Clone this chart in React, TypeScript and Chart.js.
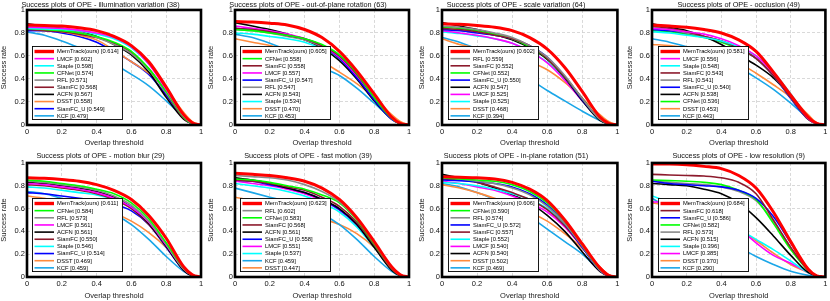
import React, { useEffect, useRef } from "react";
import { Chart, registerables } from "chart.js";

Chart.register(...registerables);

const FONT = "'Liberation Sans', Arial, Helvetica, sans-serif";

// ---------- data ----------
const thresholds = [0, 0.1, 0.2, 0.3, 0.4, 0.5, 0.6, 0.7, 0.8, 0.9, 0.95, 1];

const ivTitle = "Success plots of OPE - illumination variation (38)";
const ivTrackers = ["MemTrack(ours)", "LMCF", "Staple", "CFNet", "RFL", "SiamFC", "ACFN", "DSST", "SiamFC_U", "KCF"];
const ivScores = [0.614, 0.602, 0.598, 0.574, 0.571, 0.568, 0.567, 0.558, 0.549, 0.479];
const ivCurves = [
  [0.87, 0.865, 0.86, 0.845, 0.82, 0.77, 0.69, 0.55, 0.33, 0.09, 0.02, 0],
  [0.85, 0.845, 0.84, 0.825, 0.8, 0.76, 0.68, 0.53, 0.31, 0.08, 0.015, 0],
  [0.84, 0.835, 0.83, 0.82, 0.79, 0.75, 0.67, 0.53, 0.33, 0.08, 0.015, 0],
  [0.84, 0.83, 0.82, 0.8, 0.77, 0.72, 0.64, 0.49, 0.29, 0.07, 0.01, 0],
  [0.86, 0.85, 0.84, 0.81, 0.76, 0.7, 0.62, 0.48, 0.28, 0.07, 0.01, 0],
  [0.83, 0.82, 0.81, 0.79, 0.76, 0.71, 0.63, 0.49, 0.28, 0.06, 0.01, 0],
  [0.88, 0.86, 0.84, 0.81, 0.77, 0.7, 0.61, 0.46, 0.24, 0.05, 0.01, 0],
  [0.84, 0.83, 0.81, 0.78, 0.74, 0.65, 0.55, 0.45, 0.31, 0.11, 0.03, 0],
  [0.82, 0.82, 0.8, 0.77, 0.72, 0.64, 0.55, 0.44, 0.26, 0.06, 0.01, 0],
  [0.81, 0.78, 0.73, 0.67, 0.61, 0.53, 0.44, 0.34, 0.21, 0.07, 0.02, 0],
];

const oprTitle = "Success plots of OPE - out-of-plane rotation (63)";
const oprTrackers = ["MemTrack(ours)", "CFNet", "SiamFC", "LMCF", "SiamFC_U", "RFL", "ACFN", "Staple", "DSST", "KCF"];
const oprScores = [0.605, 0.558, 0.558, 0.557, 0.547, 0.547, 0.543, 0.534, 0.47, 0.453];
const oprCurves = [
  [0.9, 0.895, 0.885, 0.87, 0.83, 0.76, 0.64, 0.47, 0.27, 0.07, 0.015, 0],
  [0.83, 0.82, 0.8, 0.78, 0.75, 0.7, 0.61, 0.45, 0.24, 0.06, 0.01, 0],
  [0.84, 0.83, 0.81, 0.78, 0.75, 0.69, 0.6, 0.44, 0.24, 0.06, 0.01, 0],
  [0.86, 0.84, 0.82, 0.79, 0.75, 0.69, 0.59, 0.43, 0.24, 0.06, 0.01, 0],
  [0.84, 0.83, 0.81, 0.78, 0.75, 0.69, 0.58, 0.41, 0.22, 0.05, 0.01, 0],
  [0.83, 0.82, 0.8, 0.77, 0.74, 0.68, 0.58, 0.42, 0.23, 0.05, 0.01, 0],
  [0.89, 0.86, 0.83, 0.79, 0.74, 0.67, 0.56, 0.4, 0.21, 0.05, 0.01, 0],
  [0.8, 0.79, 0.77, 0.75, 0.72, 0.66, 0.57, 0.42, 0.23, 0.06, 0.01, 0],
  [0.75, 0.72, 0.69, 0.65, 0.61, 0.55, 0.46, 0.36, 0.24, 0.09, 0.03, 0],
  [0.79, 0.76, 0.71, 0.65, 0.58, 0.5, 0.43, 0.32, 0.19, 0.06, 0.015, 0],
];

const svTitle = "Success plots of OPE - scale variation (64)";
const svTrackers = ["MemTrack(ours)", "RFL", "SiamFC", "CFNet", "SiamFC_U", "ACFN", "LMCF", "Staple", "DSST", "KCF"];
const svScores = [0.602, 0.559, 0.552, 0.552, 0.55, 0.547, 0.525, 0.525, 0.468, 0.394];
const svCurves = [
  [0.88, 0.875, 0.865, 0.85, 0.82, 0.76, 0.66, 0.5, 0.29, 0.07, 0.015, 0],
  [0.86, 0.85, 0.83, 0.8, 0.76, 0.69, 0.59, 0.43, 0.23, 0.05, 0.01, 0],
  [0.84, 0.83, 0.81, 0.78, 0.75, 0.69, 0.58, 0.42, 0.23, 0.05, 0.01, 0],
  [0.85, 0.84, 0.82, 0.79, 0.75, 0.68, 0.58, 0.42, 0.23, 0.05, 0.01, 0],
  [0.83, 0.82, 0.8, 0.78, 0.75, 0.69, 0.59, 0.42, 0.22, 0.05, 0.01, 0],
  [0.89, 0.86, 0.83, 0.79, 0.74, 0.67, 0.57, 0.41, 0.21, 0.04, 0.01, 0],
  [0.82, 0.8, 0.78, 0.75, 0.71, 0.64, 0.54, 0.39, 0.21, 0.05, 0.01, 0],
  [0.81, 0.795, 0.775, 0.75, 0.71, 0.64, 0.545, 0.4, 0.21, 0.05, 0.01, 0],
  [0.75, 0.7, 0.67, 0.64, 0.6, 0.55, 0.48, 0.37, 0.23, 0.09, 0.03, 0],
  [0.76, 0.72, 0.66, 0.59, 0.5, 0.4, 0.3, 0.21, 0.12, 0.04, 0.01, 0],
];

const occTitle = "Success plots of OPE - occlusion (49)";
const occTrackers = ["MemTrack(ours)", "LMCF", "Staple", "SiamFC", "RFL", "SiamFC_U", "ACFN", "CFNet", "DSST", "KCF"];
const occScores = [0.581, 0.556, 0.548, 0.543, 0.541, 0.54, 0.538, 0.536, 0.453, 0.443];
const occCurves = [
  [0.87, 0.86, 0.85, 0.83, 0.8, 0.74, 0.64, 0.46, 0.26, 0.07, 0.015, 0],
  [0.84, 0.83, 0.81, 0.79, 0.75, 0.69, 0.6, 0.45, 0.26, 0.06, 0.01, 0],
  [0.81, 0.8, 0.78, 0.76, 0.73, 0.68, 0.6, 0.46, 0.27, 0.07, 0.01, 0],
  [0.86, 0.84, 0.81, 0.77, 0.73, 0.67, 0.58, 0.43, 0.24, 0.05, 0.01, 0],
  [0.85, 0.83, 0.8, 0.77, 0.73, 0.67, 0.58, 0.43, 0.24, 0.05, 0.01, 0],
  [0.83, 0.82, 0.8, 0.77, 0.73, 0.67, 0.58, 0.43, 0.23, 0.05, 0.01, 0],
  [0.88, 0.85, 0.82, 0.77, 0.7, 0.61, 0.52, 0.41, 0.25, 0.06, 0.01, 0],
  [0.82, 0.81, 0.79, 0.76, 0.72, 0.66, 0.58, 0.44, 0.24, 0.05, 0.01, 0],
  [0.7, 0.69, 0.67, 0.64, 0.6, 0.54, 0.45, 0.35, 0.24, 0.09, 0.02, 0],
  [0.75, 0.72, 0.68, 0.63, 0.57, 0.5, 0.41, 0.31, 0.19, 0.06, 0.015, 0],
];

const mbTitle = "Success plots of OPE - motion blur (29)";
const mbTrackers = ["MemTrack(ours)", "CFNet", "RFL", "LMCF", "ACFN", "SiamFC", "Staple", "SiamFC_U", "DSST", "KCF"];
const mbScores = [0.611, 0.584, 0.573, 0.561, 0.561, 0.55, 0.546, 0.514, 0.469, 0.459];
const mbCurves = [
  [0.87, 0.865, 0.855, 0.84, 0.81, 0.76, 0.68, 0.54, 0.34, 0.09, 0.02, 0],
  [0.85, 0.84, 0.82, 0.8, 0.77, 0.73, 0.65, 0.51, 0.3, 0.08, 0.015, 0],
  [0.84, 0.83, 0.81, 0.79, 0.76, 0.71, 0.63, 0.49, 0.29, 0.07, 0.015, 0],
  [0.82, 0.81, 0.79, 0.77, 0.74, 0.69, 0.61, 0.48, 0.28, 0.07, 0.015, 0],
  [0.83, 0.82, 0.8, 0.78, 0.75, 0.7, 0.61, 0.47, 0.27, 0.06, 0.01, 0],
  [0.81, 0.8, 0.78, 0.76, 0.73, 0.68, 0.6, 0.46, 0.27, 0.06, 0.01, 0],
  [0.79, 0.78, 0.76, 0.74, 0.72, 0.68, 0.62, 0.48, 0.27, 0.07, 0.015, 0],
  [0.74, 0.73, 0.71, 0.69, 0.67, 0.64, 0.58, 0.46, 0.26, 0.06, 0.01, 0],
  [0.71, 0.69, 0.66, 0.63, 0.6, 0.56, 0.49, 0.39, 0.26, 0.09, 0.02, 0],
  [0.75, 0.73, 0.69, 0.65, 0.61, 0.55, 0.46, 0.33, 0.18, 0.05, 0.01, 0],
];

const fmTitle = "Success plots of OPE - fast motion (39)";
const fmTrackers = ["MemTrack(ours)", "RFL", "CFNet", "SiamFC", "ACFN", "SiamFC_U", "LMCF", "Staple", "KCF", "DSST"];
const fmScores = [0.623, 0.602, 0.583, 0.568, 0.561, 0.558, 0.551, 0.537, 0.459, 0.447];
const fmCurves = [
  [0.91, 0.9, 0.89, 0.87, 0.84, 0.78, 0.68, 0.52, 0.31, 0.09, 0.02, 0],
  [0.89, 0.88, 0.87, 0.85, 0.81, 0.75, 0.66, 0.51, 0.3, 0.08, 0.015, 0],
  [0.86, 0.85, 0.83, 0.8, 0.77, 0.72, 0.65, 0.5, 0.29, 0.08, 0.015, 0],
  [0.85, 0.84, 0.82, 0.79, 0.76, 0.7, 0.62, 0.48, 0.28, 0.07, 0.015, 0],
  [0.87, 0.85, 0.82, 0.78, 0.74, 0.68, 0.6, 0.46, 0.26, 0.06, 0.01, 0],
  [0.85, 0.84, 0.81, 0.78, 0.74, 0.68, 0.59, 0.46, 0.27, 0.07, 0.015, 0],
  [0.84, 0.82, 0.8, 0.77, 0.73, 0.67, 0.59, 0.46, 0.27, 0.07, 0.015, 0],
  [0.82, 0.8, 0.78, 0.75, 0.71, 0.65, 0.57, 0.44, 0.26, 0.07, 0.015, 0],
  [0.78, 0.74, 0.7, 0.66, 0.61, 0.55, 0.46, 0.33, 0.18, 0.05, 0.01, 0],
  [0.7, 0.67, 0.63, 0.6, 0.56, 0.51, 0.46, 0.38, 0.26, 0.09, 0.02, 0],
];

const iprTitle = "Success plots of OPE - in-plane rotation (51)";
const iprTrackers = ["MemTrack(ours)", "CFNet", "RFL", "SiamFC_U", "SiamFC", "Staple", "LMCF", "ACFN", "DSST", "KCF"];
const iprScores = [0.606, 0.59, 0.574, 0.572, 0.557, 0.552, 0.54, 0.54, 0.502, 0.469];
const iprCurves = [
  [0.88, 0.875, 0.87, 0.86, 0.83, 0.77, 0.67, 0.5, 0.29, 0.08, 0.015, 0],
  [0.87, 0.86, 0.85, 0.84, 0.81, 0.75, 0.65, 0.49, 0.28, 0.07, 0.015, 0],
  [0.88, 0.86, 0.84, 0.82, 0.78, 0.72, 0.62, 0.47, 0.27, 0.06, 0.01, 0],
  [0.85, 0.845, 0.835, 0.82, 0.79, 0.73, 0.63, 0.47, 0.26, 0.06, 0.01, 0],
  [0.86, 0.85, 0.83, 0.79, 0.74, 0.68, 0.59, 0.45, 0.26, 0.06, 0.01, 0],
  [0.83, 0.82, 0.8, 0.77, 0.73, 0.68, 0.6, 0.46, 0.27, 0.07, 0.015, 0],
  [0.84, 0.82, 0.79, 0.76, 0.71, 0.65, 0.57, 0.44, 0.26, 0.06, 0.01, 0],
  [0.9, 0.87, 0.83, 0.78, 0.72, 0.65, 0.54, 0.4, 0.22, 0.05, 0.01, 0],
  [0.81, 0.78, 0.74, 0.69, 0.64, 0.57, 0.49, 0.38, 0.25, 0.09, 0.02, 0],
  [0.82, 0.79, 0.74, 0.68, 0.62, 0.53, 0.42, 0.31, 0.2, 0.06, 0.015, 0],
];

const lrTitle = "Success plots of OPE - low resolution (9)";
const lrTrackers = ["MemTrack(ours)", "SiamFC", "SiamFC_U", "CFNet", "RFL", "ACFN", "Staple", "LMCF", "DSST", "KCF"];
const lrScores = [0.684, 0.618, 0.586, 0.582, 0.573, 0.515, 0.396, 0.385, 0.37, 0.29];
const lrCurves = [
  [0.99, 0.99, 0.985, 0.97, 0.95, 0.89, 0.78, 0.57, 0.31, 0.07, 0.01, 0],
  [0.9, 0.895, 0.89, 0.885, 0.87, 0.83, 0.73, 0.5, 0.26, 0.06, 0.01, 0],
  [0.84, 0.82, 0.81, 0.8, 0.79, 0.76, 0.69, 0.53, 0.3, 0.07, 0.01, 0],
  [0.85, 0.845, 0.84, 0.83, 0.81, 0.76, 0.68, 0.47, 0.24, 0.06, 0.01, 0],
  [0.84, 0.83, 0.82, 0.81, 0.79, 0.75, 0.67, 0.49, 0.26, 0.06, 0.01, 0],
  [0.82, 0.81, 0.8, 0.77, 0.73, 0.65, 0.52, 0.36, 0.19, 0.04, 0.01, 0],
  [0.71, 0.66, 0.62, 0.57, 0.5, 0.42, 0.33, 0.24, 0.14, 0.04, 0.01, 0],
  [0.66, 0.65, 0.63, 0.59, 0.52, 0.43, 0.3, 0.19, 0.12, 0.04, 0.01, 0],
  [0.65, 0.63, 0.6, 0.56, 0.5, 0.42, 0.32, 0.21, 0.11, 0.04, 0.01, 0],
  [0.69, 0.6, 0.51, 0.42, 0.33, 0.26, 0.18, 0.11, 0.05, 0.015, 0.005, 0],
];

// ---------- styles ----------
const trackerColors: Record<string, string> = {
  "MemTrack(ours)": "#ff0000",
  LMCF: "#ff00ff",
  Staple: "#00ffff",
  CFNet: "#00ff00",
  RFL: "#8a8a8a",
  SiamFC: "#8c1a2c",
  ACFN: "#000000",
  DSST: "#ff8a3c",
  SiamFC_U: "#0000ff",
  KCF: "#1aa6e8",
};

const panels = [
  { title: ivTitle, trackers: ivTrackers, scores: ivScores, curves: ivCurves },
  { title: oprTitle, trackers: oprTrackers, scores: oprScores, curves: oprCurves },
  { title: svTitle, trackers: svTrackers, scores: svScores, curves: svCurves },
  { title: occTitle, trackers: occTrackers, scores: occScores, curves: occCurves },
  { title: mbTitle, trackers: mbTrackers, scores: mbScores, curves: mbCurves },
  { title: fmTitle, trackers: fmTrackers, scores: fmScores, curves: fmCurves },
  { title: iprTitle, trackers: iprTrackers, scores: iprScores, curves: iprCurves },
  { title: lrTitle, trackers: lrTrackers, scores: lrScores, curves: lrCurves },
];

// geometry
const colLeft = [0, 207, 414, 622];
const colWidth = [207, 207, 208, 208];
const colAxisW = [27, 28, 28, 30];
const colRightPad = [6, 5, 4, 4];
const colYTitleC = [4, 4, 8, 7.5];
const colLegendX = [4.5, 5, 6, 6];
const rowTop = [0, 150];
const rowHeight = [150, 151];
const rowXAxisH = [25, 24];
const rowTitlePad = [
  { top: 0.3, bottom: 0.9 },
  { top: 1.6, bottom: 2.6 },
];
const rowXTitleC = [143.3, 145.7];
const rowLegendGap = [6, 5.5];
const legendWidth = 90;

const framePlugin = {
  id: "frameLegend",
  afterDatasetsDraw(chart: any, _args: any, opts: any) {
    const { ctx, chartArea: a } = chart;
    ctx.save();
    ctx.strokeStyle = "#000";
    ctx.lineWidth = 2.6;
    ctx.strokeRect(a.left, a.top, a.right - a.left, a.bottom - a.top);

    const ds = chart.data.datasets;
    const rowH = 7.15;
    const h = 5 + (ds.length - 1) * rowH + 3.7;
    const bx = Math.round(a.left + opts.offsetX) + 0.5;
    const by = Math.round(a.bottom - opts.gap - h) + 0.5;
    ctx.fillStyle = "#fff";
    ctx.fillRect(bx, by, opts.width, h);
    ctx.lineWidth = 0.9;
    ctx.strokeStyle = "#000";
    ctx.strokeRect(bx, by, opts.width, h);
    ctx.font = `5.8px ${FONT}`;
    ctx.textBaseline = "middle";
    ctx.textAlign = "left";
    ds.forEach((d: any, i: number) => {
      const cy = by + 5 + i * rowH;
      ctx.strokeStyle = d.borderColor;
      ctx.lineWidth = i === 0 ? 3.4 : 1.6;
      ctx.beginPath();
      ctx.moveTo(bx + 2, cy);
      ctx.lineTo(bx + 21.5, cy);
      ctx.stroke();
      ctx.fillStyle = "#000";
      ctx.fillText(d.label, bx + 24.5, cy + 0.3);
    });
    ctx.restore();
  },
};

const tickLabel = (v: any) => String(Number(Number(v).toFixed(1)));

function Panel({ idx }: { idx: number }) {
  const ref = useRef<HTMLCanvasElement>(null);
  const col = idx % 4;
  const row = Math.floor(idx / 4);
  const w = colWidth[col];
  const h = rowHeight[row];

  useEffect(() => {
    const p = panels[idx];
    const datasets = p.trackers.map((name, i) => ({
      label: `${name} [${p.scores[i].toFixed(3)}]`,
      data: thresholds.map((x, k) => ({ x, y: p.curves[i][k] })),
      borderColor: trackerColors[name],
      backgroundColor: trackerColors[name],
      borderWidth: i === 0 ? 3 : 1.6,
      pointRadius: 0,
      fill: false,
      cubicInterpolationMode: "monotone" as const,
    }));
    const tickFont = { family: FONT, size: 7.5 };
    const chart = new Chart(ref.current as HTMLCanvasElement, {
      type: "line",
      data: { datasets },
      plugins: [framePlugin],
      options: {
        animation: false,
        responsive: false,
        maintainAspectRatio: false,
        devicePixelRatio: 1,
        events: [],
        layout: { padding: { left: 0, right: colRightPad[col], top: 0, bottom: 0 } },
        plugins: {
          legend: { display: false },
          tooltip: { enabled: false },
          title: {
            display: true,
            text: p.title,
            fullSize: col !== 3,
            color: "#111",
            font: { family: FONT, size: 7.3, weight: "normal", lineHeight: 1.2 },
            padding: rowTitlePad[row],
          },
          frameLegend: {
            offsetX: colLegendX[col],
            gap: rowLegendGap[row],
            width: legendWidth,
          },
        } as any,
        scales: {
          x: {
            type: "linear",
            min: 0,
            max: 1,
            afterFit: (s: any) => {
              s.height = rowXAxisH[row];
            },
            ticks: {
              stepSize: 0.2,
              callback: tickLabel,
              font: tickFont,
              color: "#111",
              padding: 2.5,
              maxRotation: 0,
              autoSkip: false,
            },
            grid: { color: "#cfcfcf", lineWidth: 0.8, drawTicks: false },
            border: { display: false, dash: [3, 2] },
            title: {
              display: true,
              text: "Overlap threshold",
              color: "#222",
              font: { family: FONT, size: 7.5, lineHeight: 1 },
              padding: { top: 0, bottom: h - rowXTitleC[row] - 3.75 },
            },
          },
          y: {
            type: "linear",
            min: 0,
            max: 1,
            afterFit: (s: any) => {
              s.width = colAxisW[col];
            },
            ticks: {
              stepSize: 0.2,
              callback: tickLabel,
              font: tickFont,
              color: "#111",
              padding: 2,
              autoSkip: false,
            },
            grid: { color: "#cfcfcf", lineWidth: 0.8, drawTicks: false },
            border: { display: false, dash: [3, 2] },
            title: {
              display: true,
              text: "Success rate",
              color: "#222",
              font: { family: FONT, size: 7.5, lineHeight: 1 },
              padding: { top: colYTitleC[col] - 3.75, bottom: 0 },
            },
          },
        },
      } as any,
    });
    return () => chart.destroy();
  }, [idx]);

  return (
    <canvas
      ref={ref}
      width={w}
      height={h}
      style={{
        position: "absolute",
        left: colLeft[col],
        top: rowTop[row],
        width: w,
        height: h,
        display: "block",
      }}
    />
  );
}

export default function App() {
  return (
    <div
      style={{
        position: "absolute",
        left: 0,
        top: 0,
        width: 830,
        height: 301,
        background: "#fff",
        overflow: "hidden",
      }}
    >
      {panels.map((_, i) => (
        <Panel key={i} idx={i} />
      ))}
    </div>
  );
}
